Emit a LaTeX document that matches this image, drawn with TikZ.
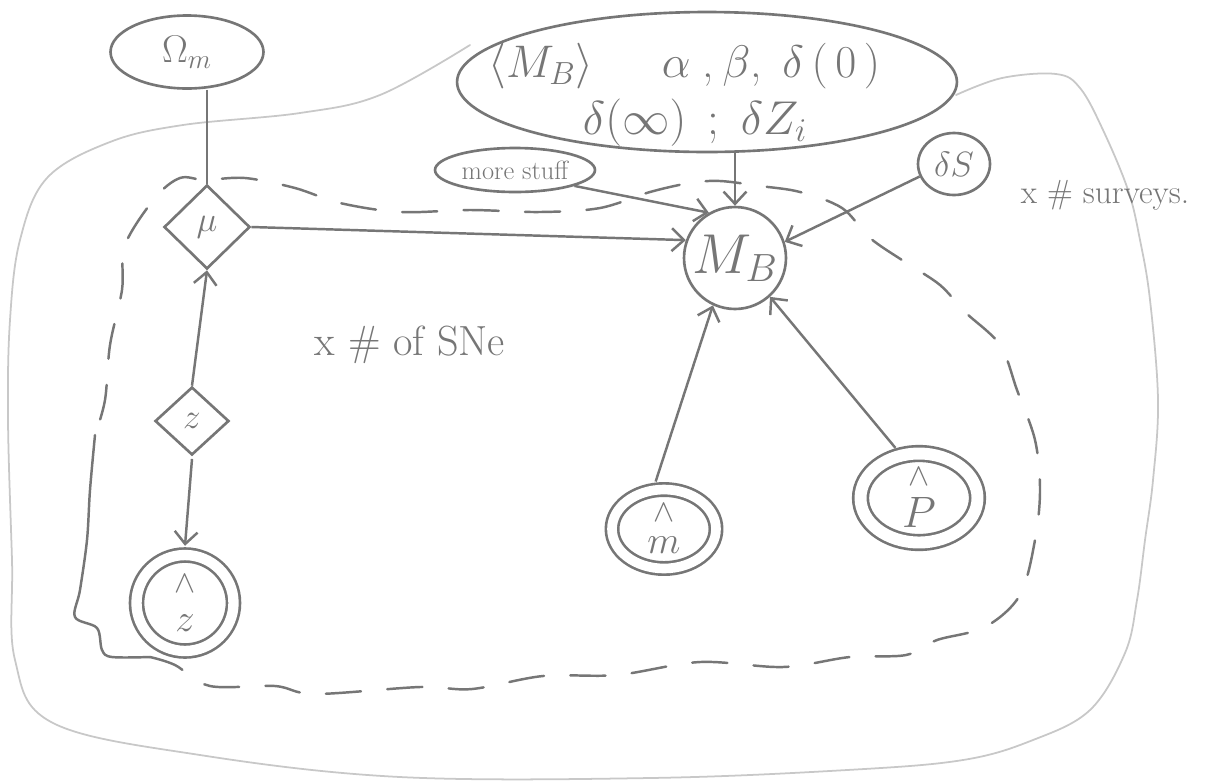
\documentclass[tikz,border=0pt]{standalone}
\usepackage{fix-cm}
\usetikzlibrary{shapes.geometric,arrows.meta}
\definecolor{ink}{RGB}{118,118,118}
\definecolor{faint}{RGB}{200,200,200}
\newcommand{\hatmark}{{\fontsize{18}{18}\selectfont$\wedge$}}
\begin{document}
\begin{tikzpicture}[x=0.02cm, y=-0.02cm,
  every node/.style={text=ink, inner sep=0pt},
  shp/.style={draw=ink, line width=1.5pt},
  dbl/.style={shp, ellipse, double=white, align=center},
  conn/.style={draw=ink, line width=1.4pt},
  arr/.style={conn, -{Straight Barb[length=7pt,width=13pt,line width=1.4pt]}},
  plateSN/.style={draw=ink, line width=1.4pt, line cap=round, dash pattern=on 20pt off 15pt},
  plateSNsolid/.style={draw=ink, line width=1.4pt, line cap=round},
  plateSV/.style={draw=faint, line width=1pt, line cap=round}]
\useasboundingbox[fill=white] (0,0) rectangle (1209,782);

% plates
\draw[plateSV] plot[smooth, tension=0.6] coordinates {(470,45) (380,95) (300,113) (183,125) (110,142) (47,178) (20,240) (10,320) (8,420) (12,560) (15,660) (53,723) (200,755) (400,777) (650,778) (847,770) (963,760) (1033,740) (1090,710) (1125,653) (1137,600) (1145,540) (1153,480) (1158,400) (1150,300) (1140,240) (1128,190) (1103,130) (1080,88) (1056,74) (1002,78) (956,95)};
\draw[plateSN] plot[smooth, tension=0.55] coordinates {(150,657) (175,665) (210,686) (275,686) (315,694) (420,687) (472,689) (543,676) (617,675) (700,662) (783,667) (850,657) (906,655) (937,640) (985,627) (1020,595) (1035,540) (1040,490) (1035,440) (1017,390) (1000,345) (965,312) (940,285) (905,262) (870,238) (842,208) (800,192) (760,186) (720,181) (690,183) (650,192) (600,208) (540,212) (470,210) (400,212) (340,203) (295,188) (245,178) (205,180) (180,178) (155,198) (125,245) (122,290) (110,345) (105,400) (95,435)};
\draw[plateSNsolid] plot[smooth, tension=0.55] coordinates {(95,435) (90,490) (87,540) (80,590) (75,617) (97,628) (102,650) (112,657) (150,657)};

% nodes
\node[shp, ellipse, minimum width=3.06cm, minimum height=1.46cm, font=\fontsize{22}{26}\selectfont] (Om) at (187,52) {$\Omega_{m}$};
\node[shp, diamond, aspect=1, minimum width=1.72cm, minimum height=1.68cm, font=\fontsize{20}{24}\selectfont] (mu) at (207,227) {$\mu$};
\node[shp, diamond, aspect=1, minimum width=1.48cm, minimum height=1.36cm, font=\fontsize{20}{24}\selectfont] (z) at (192,421) {$z$};
\node[dbl, double distance=5.9pt, minimum width=1.94cm, minimum height=1.92cm, font=\fontsize{22}{22}\selectfont] (zhat) at (185,603) {\hatmark\\$z$};

\node[shp, ellipse, minimum width=10cm, minimum height=2.8cm] (bigE) at (707,82) {};
\node[font=\fontsize{26}{30}\selectfont, anchor=west] (bigT1) at (488,66) {$\langle M_{B}\rangle$\hspace{1.5em}$\alpha$\hspace{0.25em},\hspace{0.2em}$\beta$,\hspace{0.45em}$\delta\,(\,0\,)$};
\node[font=\fontsize{27}{30}\selectfont] (bigT2) at (695,123) {$\delta(\infty)$\hspace{0.45em};\hspace{0.45em}$\delta Z_{i}$};

\node[shp, ellipse, minimum width=3.2cm, minimum height=0.88cm, font=\fontsize{15}{18}\selectfont] (more) at (515,170) {more stuff};
\node[shp, ellipse, minimum width=1.44cm, minimum height=1.24cm, font=\fontsize{20}{24}\selectfont] (dS) at (954,164) {$\delta S$};
\node[shp, circle, minimum size=2.04cm, font=\fontsize{32}{36}\selectfont] (MB) at (735,258) {$M_{B}$};

\node[dbl, double distance=5.5pt, minimum width=2.08cm, minimum height=1.58cm, font=\fontsize{22}{22}\selectfont] (mhat) at (664,529) {\hatmark\\[-4pt]$m$};
\node[dbl, double distance=6.8pt, minimum width=2.34cm, minimum height=1.78cm, font=\fontsize{25}{24}\selectfont] (phat) at (919,498) {\hatmark\\$P$};

\node[font=\fontsize{24}{28}\selectfont] (snelabel) at (410,345) {x \# of SNe};
\node[font=\fontsize{19}{22}\selectfont] (svlabel) at (1105,195) {x \# surveys.};

% connectors
\draw[conn] (Om.south -| mu.north) -- (mu.north);
\draw[arr] (z.north) -- (mu.south);
\draw[arr] ([yshift=-1.5pt]z.south) -- ([yshift=4.5pt]zhat.north);
\draw[arr] (mu.east) -- (MB.160);
\draw[arr] (bigE.south -| MB.north) -- (MB.north);
\draw[arr] (more.-15) -- (MB.120);
\draw[arr] (dS.200) -- (MB.18);
\draw[arr] ([shift={(-0.7pt,4pt)}]mhat.100) -- (MB.245);
\draw[arr] ([shift={(-2pt,4pt)}]phat.115) -- (MB.-48);
\end{tikzpicture}
\end{document}
